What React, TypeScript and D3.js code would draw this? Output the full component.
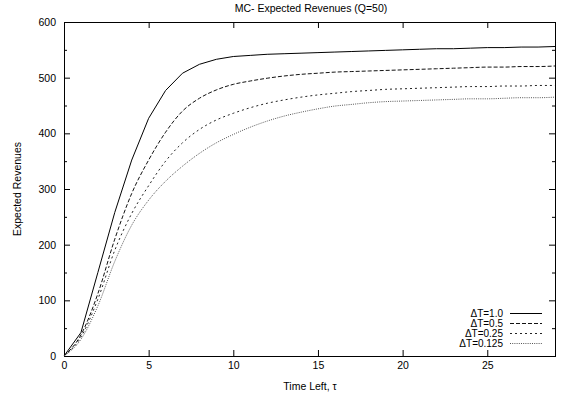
import { useRef, useEffect } from 'react'
import * as d3 from 'd3'

const width = 561
const height = 397
const margin = { top: 22, right: 6, bottom: 41, left: 64 }

const timeLeft = d3.range(0, 30)

const revDt1 = [0, 42, 150, 258, 352, 427, 477, 508, 524, 533, 538, 540, 542, 543, 544, 545, 546, 547, 548, 549, 550, 551, 552, 552, 553, 554, 554, 555, 555, 556]
const revDt05 = [0, 38, 112, 210, 292, 352, 402, 440, 463, 478, 488, 494, 499, 503, 506, 508, 510, 511, 512, 513, 514, 515, 516, 517, 518, 519, 519, 520, 520, 521]
const revDt025 = [0, 34, 102, 190, 256, 306, 350, 383, 407, 424, 436, 446, 454, 460, 465, 469, 472, 475, 477, 479, 480, 481, 482, 483, 484, 484, 485, 485, 486, 486]
const revDt0125 = [0, 30, 90, 170, 235, 280, 314, 341, 364, 383, 398, 411, 422, 431, 438, 444, 449, 452, 455, 457, 458, 459, 460, 461, 462, 462, 463, 464, 464, 465]

const seriesLabels = ['\u0394T=1.0', '\u0394T=0.5', '\u0394T=0.25', '\u0394T=0.125']
const seriesValues = [revDt1, revDt05, revDt025, revDt0125]
const dashes = ['none', '4,2', '2,3', '1,1.2']
const strokes = ['#000', '#111', '#222', '#555']

const xTicks = [0, 5, 10, 15, 20, 25]
const yTicks = [0, 100, 200, 300, 400, 500, 600]
const yMinor = [50, 150, 250, 350, 450, 550]

export default function App() {
    const ref = useRef<SVGSVGElement | null>(null)

    useEffect(() => {
        if (!ref.current) return
        d3.select(ref.current).selectAll('*').remove()

        const w = width - margin.left - margin.right
        const h = height - margin.top - margin.bottom
        const font = '"Liberation Sans", Arial, sans-serif'

        const svg = d3.select(ref.current)
        svg.append('rect').attr('width', width).attr('height', height).attr('fill', '#fff')

        const g = svg.append('g').attr('transform', `translate(${margin.left},${margin.top})`)

        const x = d3.scaleLinear().domain([0, 29]).range([0, w])
        const y = d3.scaleLinear().domain([0, 600]).range([h, 0])

        // ticks inside the border, mirrored (gnuplot look)
        const styleAxis = (sel: any) => {
            sel.select('.domain').remove()
            sel.selectAll('line').attr('stroke', '#000').attr('stroke-width', 1)
            sel.selectAll('text').attr('font-family', font).attr('font-size', 10.5).attr('fill', '#000')
        }

        g.append('g')
            .attr('transform', `translate(0,${h})`)
            .call(d3.axisBottom(x).tickValues(xTicks).tickSize(-6).tickPadding(6).tickFormat(d3.format('d')))
            .call(styleAxis)
        g.append('g')
            .call(d3.axisTop(x).tickValues(xTicks).tickSize(-6).tickFormat(() => ''))
            .call(styleAxis)
        g.append('g')
            .call(d3.axisLeft(y).tickValues(yTicks).tickSize(-6).tickPadding(8).tickFormat(d3.format('d')))
            .call(styleAxis)
        g.append('g')
            .attr('transform', `translate(${w},0)`)
            .call(d3.axisRight(y).tickValues(yTicks).tickSize(-6).tickFormat(() => ''))
            .call(styleAxis)
        g.append('g')
            .call(d3.axisLeft(y).tickValues(yMinor).tickSize(-3).tickFormat(() => ''))
            .call(styleAxis)
        g.append('g')
            .attr('transform', `translate(${w},0)`)
            .call(d3.axisRight(y).tickValues(yMinor).tickSize(-3).tickFormat(() => ''))
            .call(styleAxis)

        g.append('rect')
            .attr('x', 0.5)
            .attr('y', 0.5)
            .attr('width', w)
            .attr('height', h)
            .attr('fill', 'none')
            .attr('stroke', '#000')
            .attr('stroke-width', 1)

        seriesValues.forEach((vals, i) => {
            const line = d3
                .line<number>()
                .x((_, j) => x(timeLeft[j]))
                .y((d) => y(d))
                .curve(i === 0 ? d3.curveLinear : d3.curveMonotoneX)
            g.append('path')
                .datum(vals)
                .attr('d', line)
                .attr('fill', 'none')
                .attr('stroke', strokes[i])
                .attr('stroke-width', 1)
                .attr('stroke-dasharray', dashes[i])
        })

        // legend
        const legend = g.append('g').attr('transform', `translate(${439},${291})`)
        seriesLabels.forEach((label, i) => {
            const row = legend.append('g').attr('transform', `translate(0,${i * 10})`)
            row.append('text')
                .attr('x', 0)
                .attr('y', 0)
                .attr('dy', '0.35em')
                .attr('text-anchor', 'end')
                .attr('font-family', font)
                .attr('font-size', 10)
                .text(label)
            row.append('line')
                .attr('x1', 7)
                .attr('x2', 39)
                .attr('y1', 0.5)
                .attr('y2', 0.5)
                .attr('stroke', strokes[i])
                .attr('stroke-width', 1)
                .attr('stroke-dasharray', dashes[i])
        })

        svg.append('text')
            .attr('x', 311)
            .attr('y', 8)
            .attr('dy', '0.35em')
            .attr('text-anchor', 'middle')
            .attr('font-family', font)
            .attr('font-size', 10.5)
            .text('MC- Expected Revenues (Q=50)')

        svg.append('text')
            .attr('x', 310)
            .attr('y', 386)
            .attr('dy', '0.35em')
            .attr('text-anchor', 'middle')
            .attr('font-family', font)
            .attr('font-size', 10.5)
            .text('Time Left, \u03c4')

        svg.append('text')
            .attr('transform', `translate(17,189) rotate(-90)`)
            .attr('dy', '0.35em')
            .attr('text-anchor', 'middle')
            .attr('font-family', font)
            .attr('font-size', 10.5)
            .text('Expected Revenues')
    }, [])

    return (
        <svg
            ref={ref}
            width={width}
            height={height}
            style={{ position: 'absolute', left: 0, top: 0 }}
        />
    )
}
